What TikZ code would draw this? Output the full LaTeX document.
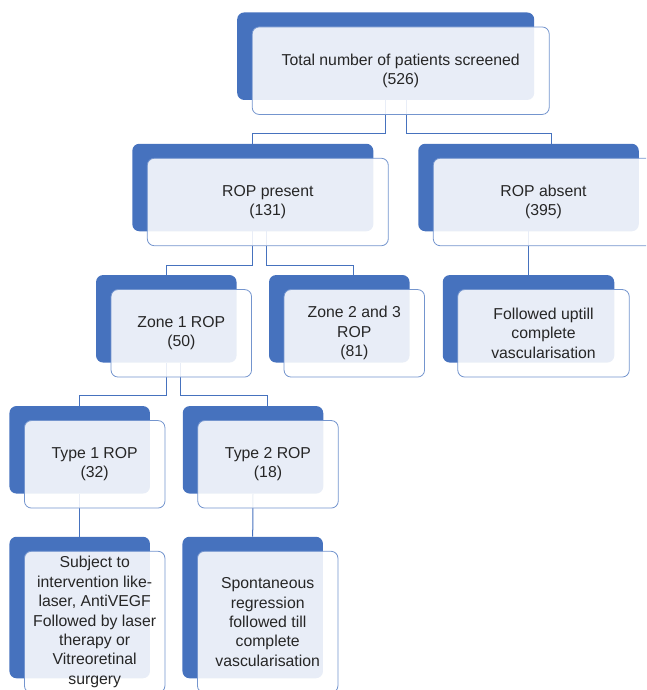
\documentclass[tikz,border=0pt]{standalone}
\usepackage{fontspec}
\setmainfont{Liberation Sans}
\usepackage{xcolor}
\usepackage{tikz}
\definecolor{boxblue}{RGB}{70, 114, 190}
\definecolor{textgray}{RGB}{38, 38, 38}
\usetikzlibrary{positioning, backgrounds, calc}

\begin{document}
\begin{tikzpicture}[
    x=1pt, y=-1pt,
    darkbox/.style={rectangle, rounded corners=7pt, fill=boxblue, inner sep=0pt, minimum width=140.5pt, minimum height=87.5pt},
    textbox/.style={rectangle, rounded corners=7pt, draw=boxblue!75, line width=0.8pt, fill=white, fill opacity=0.88, text opacity=1, inner sep=0pt, minimum width=140.5pt, minimum height=87.5pt, align=center, text=textgray, font=\fontsize{15.8}{19.4}\selectfont},
    link/.style={draw=boxblue, line width=1pt}
]
    \path[use as bounding box, clip] (0,0) rectangle (646,690);

    % Level 0
    \node[darkbox, minimum width=297pt] (total) at (385.7, 56.2) {};
    \node[textbox, minimum width=297pt] (totalT) at ([shift={(15,14.5)}]total.center) {Total number of patients screened\\(526)};

    % Level 1
    \node[darkbox, minimum width=241pt] (present) at (252.8, 187.5) {};
    \node[textbox, minimum width=241pt] (presentT) at ([shift={(15,14.5)}]present.center) {ROP present\\(131)};
    \node[darkbox, minimum width=220.5pt] (absent) at (528.5, 187.5) {};
    \node[textbox, minimum width=220.5pt] (absentT) at ([shift={(15,14.5)}]absent.center) {ROP absent\\(395)};

    % Level 2
    \node[darkbox] (zone1) at (166.3, 318.8) {};
    \node[textbox] (zone1T) at ([shift={(15,14.5)}]zone1.center) {Zone 1 ROP\\(50)};
    \node[darkbox] (zone23) at (339.3, 318.8) {};
    \node[textbox] (zone23T) at ([shift={(15,14.5)}]zone23.center) {Zone 2 and 3\\ROP\\(81)};
    \node[darkbox, minimum width=171.5pt] (followed) at (528.5, 318.8) {};
    \node[textbox, minimum width=171.5pt] (followedT) at ([shift={(15,14.5)}]followed.center) {Followed uptill\\complete\\vascularisation};

    % Level 3
    \node[darkbox] (type1) at (79.7, 449.8) {};
    \node[textbox] (type1T) at ([shift={(15,14.5)}]type1.center) {Type 1 ROP\\(32)};
    \node[darkbox] (type2) at (253, 449.8) {};
    \node[textbox] (type2T) at ([shift={(15,14.5)}]type2.center) {Type 2 ROP\\(18)};

    % Level 4
    \node[darkbox, minimum height=141.5pt] (interv) at (79.7, 607.5) {};
    \node[textbox, minimum height=141.5pt] (intervT) at ([shift={(15,14.5)}]interv.center) {Subject to\\intervention like-\\laser, AntiVEGF\\Followed by laser\\therapy or\\Vitreoretinal\\surgery};
    \node[darkbox, minimum height=141.5pt] (spont) at (252.7, 607.5) {};
    \node[textbox, minimum height=141.5pt] (spontT) at ([shift={(15,14.5)}]spont.center) {Spontaneous\\regression\\followed till\\complete\\vascularisation};

    % Connectors
    \begin{scope}[on background layer]
        \draw[link] (total.south) -- ++(0,33) -| (present.north);
        \draw[link] ([xshift=21pt]total.south) -- ++(0,33) -| ([xshift=23pt]absent.north);
        \draw[link] (present.south) -- ++(0,34) -| (zone1.north);
        \draw[link] ([xshift=14pt]present.south) -- ++(0,34) -| ([xshift=14pt]zone23.north);
        \draw[link] (absent.south) -- (followed.north);
        \draw[link] (zone1.south) -- ++(0,33) -| (type1.north);
        \draw[link] ([xshift=14pt]zone1.south) -- ++(0,33) -| ([xshift=14pt]type2.north);
        \draw[link] (type1.south) -- (interv.north);
        \draw[link] (type2.south) -- (spont.north);
    \end{scope}
\end{tikzpicture}
\end{document}
